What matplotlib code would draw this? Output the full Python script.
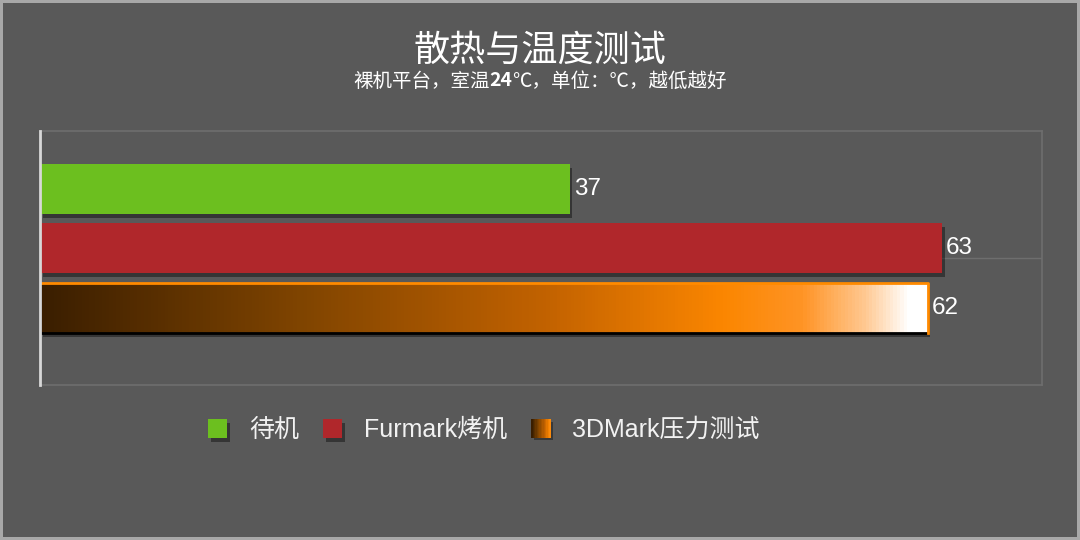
import matplotlib.pyplot as plt
import numpy as np
from matplotlib.colors import LinearSegmentedColormap
from matplotlib.patches import Rectangle
from matplotlib.legend_handler import HandlerBase
from matplotlib.offsetbox import TextArea, HPacker, AnnotationBbox
import matplotlib.patheffects as pe

plt.rcParams['font.family'] = ['Noto Sans CJK SC', 'DejaVu Sans']
latin = ['Liberation Sans', 'Noto Sans CJK SC']

# 数据
series = ['待机', 'Furmark烤机', '3DMark压力测试']
temps = [37, 63, 62]
colors = ['#6cbf1f', '#b0272b', None]

bg = '#595959'
grad = LinearSegmentedColormap.from_list(
    'grad', [(0.0, '#3a1e00'), (0.29, '#7f4400'), (0.57, '#c26200'),
             (0.77, '#fb8600'), (0.86, '#ff9425'), (0.93, '#ffc890'),
             (0.98, '#ffffff'), (1.0, '#ffffff')])

fig = plt.figure(figsize=(10.8, 5.4), dpi=100, facecolor=bg)
fig.patch.set_edgecolor('#a8a8a8')
fig.patch.set_linewidth(4)
ax = fig.add_axes([0.037, 0.287, 0.928, 0.470])
ax.set_facecolor(bg)

y = np.arange(len(series))
h = 0.84
shadow = [pe.SimplePatchShadow(offset=(2, -3), shadow_rgbFace='black', alpha=0.4), pe.Normal()]

bars = []
for i, (name, v, c) in enumerate(zip(series, temps, colors)):
    if c is not None:
        b = ax.barh(y[i], v, height=h, color=c, label=name, zorder=3)
        b[0].set_path_effects(shadow)
    else:
        # 渐变条
        b = ax.barh(y[i], v, height=h, color=bg, label=name, zorder=3)
        p = b[0]
        p.set_path_effects(shadow)
        x0, x1 = p.get_x(), p.get_x() + p.get_width()
        y0, y1 = p.get_y(), p.get_y() + p.get_height()
        im = ax.imshow(np.linspace(0, 1, 256).reshape(1, -1), cmap=grad, aspect='auto',
                       extent=(x0, x1, y1, y0), zorder=3.5)
        im.set_clip_path(p)
        ax.plot([x0, x0, x1], [y0, y1, y1], color='black', lw=2, zorder=4)
        ax.plot([x0, x1, x1], [y0, y0, y1], color='#ff8a00', lw=2, zorder=5)
    bars.append(b)
    ax.bar_label(b, labels=[str(v)], padding=3, color='white', fontsize=17.5,
                 family=latin, zorder=6)

ax.set_xlim(0, 70)
ax.set_ylim(2 + 1.30, -0.966)
ylo, yhi = ax.get_ylim()
ax.axhline((ylo + yhi) / 2, color='#6e6e6e', lw=1, zorder=1)

for s in ['top', 'right', 'bottom']:
    ax.spines[s].set_color('#6e6e6e')
    ax.spines[s].set_linewidth(1.2)
ax.spines['left'].set_color('#d8d8d8')
ax.spines['left'].set_linewidth(2)
ax.spines['left'].set_zorder(6)
ax.set_xticks([])
ax.set_yticks([])


class GradHandler(HandlerBase):
    def create_artists(self, legend, orig_handle, xdescent, ydescent,
                       width, height, fontsize, trans):
        n = 14
        out = [Rectangle((-xdescent + 2, -ydescent - 2), width, height,
                         fc='black', alpha=0.35, ec='none', transform=trans)]
        for k in range(n):
            out.append(Rectangle((-xdescent + k * width / n, -ydescent), width / n + 0.3,
                                 height, fc=grad(0.8 * k / (n - 1)), ec='none',
                                 transform=trans))
        return out


handles = [bars[0][0], bars[1][0], bars[2][0]]
leg = fig.legend(handles, series, loc='center', bbox_to_anchor=(484 / 1080, 1 - 430 / 540),
                 ncol=3, frameon=False, labelcolor='#f2f2f2',
                 prop={'family': latin, 'size': 18},
                 handlelength=0.76, handleheight=0.76, handletextpad=0.88,
                 columnspacing=0.96, handler_map={bars[2][0]: GradHandler()})

fig.text(0.5, 1 - 51 / 540, '散热与温度测试', ha='center', va='center',
         color='white', fontsize=26)

parts = [TextArea('裸机平台，室温', textprops=dict(color='white', fontsize=14)),
         TextArea('24', textprops=dict(color='white', fontsize=14, fontweight='bold')),
         TextArea('℃，单位：℃，越低越好', textprops=dict(color='white', fontsize=14))]
pack = HPacker(children=parts, align='baseline', pad=0, sep=0)
ab = AnnotationBbox(pack, (0.5, 1 - 81 / 540), xycoords='figure fraction',
                    frameon=False, box_alignment=(0.5, 0.5))
fig.add_artist(ab)

fig.savefig('out.png', dpi=100, facecolor=bg, edgecolor=fig.patch.get_edgecolor())
